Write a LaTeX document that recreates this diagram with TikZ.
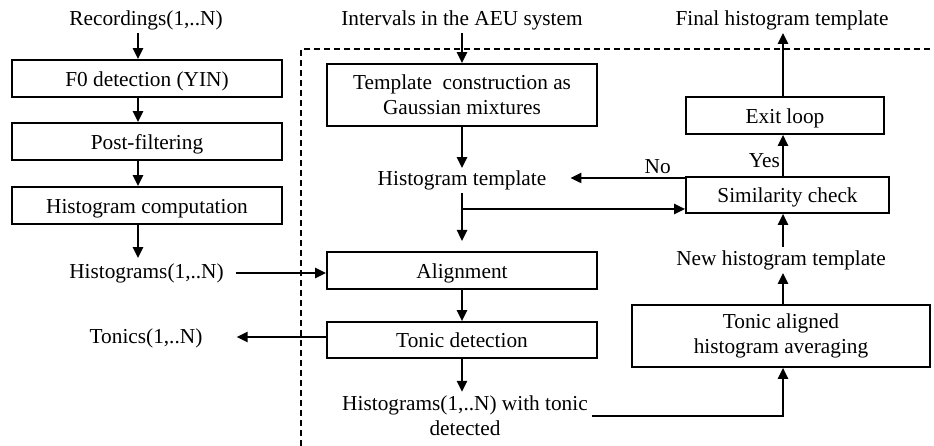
\documentclass[tikz,border=0pt]{standalone}
\usepackage{fontspec}
\setmainfont{Liberation Serif}
\usetikzlibrary{arrows.meta,calc}
\begin{document}
\begin{tikzpicture}[x=1pt,y=-1pt,
  every node/.style={font=\fontsize{21.3}{25}\selectfont},
  box/.style={draw,line width=1.6pt,inner sep=0pt,align=center},
  box1/.style={box,text height=18pt,text depth=2.6pt},
  lbl/.style={inner sep=3pt,align=center},
  arr/.style={line width=2.4pt,-{Triangle[length=11pt,width=10pt]}},
  dsh/.style={line width=1.3pt,dash pattern=on 6pt off 4pt}]
\useasboundingbox (0,0) rectangle (934,446);
% dashed frame
\draw[dsh] (301,446) -- (301,49) -- (931,49);
% left column
\coordinate (ax) at (138,0);
\node[lbl] (rec) at (146,20) {Recordings(1,..N)};
\node[box1,minimum width=270pt,minimum height=37pt] (f0) at (147,78.5) {F0 detection (YIN)};
\node[box1,minimum width=270pt,minimum height=37pt] (post) at (147,141.5) {Post-filtering};
\node[box1,minimum width=270pt,minimum height=37pt] (hcomp) at (147,205.5) {Histogram computation};
\node[lbl] (hists) at (146.5,273) {Histograms(1,..N)};
\node[lbl] (tonics) at (146,338) {Tonics(1,..N)};
\draw[arr] (rec.south -| ax) -- (f0.north -| ax);
\draw[arr] (f0.south -| ax) -- (post.north -| ax);
\draw[arr] (post.south -| ax) -- (hcomp.north -| ax);
\draw[arr] (hcomp.south -| ax) -- ([yshift=2pt]hists.north -| ax);
% middle column
\coordinate (mx) at (462,0);
\node[lbl] (intv) at (462,20) {Intervals in the AEU system};
\node[box,minimum width=270pt,minimum height=62pt] (tmpl) at (462,95) {Template~~construction as\\Gaussian mixtures};
\node[lbl] (histT) at (462,180) {Histogram template};
\node[box1,minimum width=270pt,minimum height=37pt] (align) at (462,270.5) {Alignment};
\node[box1,minimum width=270pt,minimum height=36pt] (tonic) at (462,340) {Tonic detection};
\node[lbl,inner sep=4pt] (histN) at (465,416) {Histograms(1,..N) with tonic\\detected};
\coordinate (gapT) at (462,241);
\coordinate (brT) at (462,209);
\draw[arr] (intv.south -| mx) -- (tmpl.north -| mx);
\draw[arr] (tmpl.south -| mx) -- ([yshift=-1pt]histT.north -| mx);
\draw[arr] (histT.south -| mx) -- (gapT);
\draw[arr] (tonic.south -| mx) -- (histN.north -| mx);
\draw[arr] (align.south -| mx) -- (tonic.north -| mx);
\draw[arr] ([xshift=9pt]hists.east) -- (hists.east -| align.west);
\draw[arr] (tonic.west |- 0,337) -- ([xshift=31pt]tonics.east |- 0,337);
% right column
\coordinate (rx) at (783,0);
\node[lbl] (final) at (782,20) {Final histogram template};
\node[box1,minimum width=198pt,minimum height=37pt] (exit) at (785,115.5) {Exit loop};
\node[box1,minimum width=203pt,minimum height=36pt] (sim) at (787.5,195) {Similarity check};
\node[lbl] (newT) at (781,260) {New histogram template};
\node[box,minimum width=298pt,minimum height=62pt] (avg) at (781,336) {Tonic aligned\\histogram averaging};
\draw[arr] (exit.north -| rx) -- (final.south -| rx);
\draw[arr] (sim.north -| rx) -- (exit.south -| rx) node[pos=0.37,left=2pt,lbl,inner sep=0pt] (yes) {Yes};
\draw[arr] (newT.north -| rx) -- (sim.south -| rx);
\draw[arr] (avg.north -| rx) -- (newT.south -| rx);
\draw[arr] (histN.east) -- (histN.east -| rx) -- (avg.south -| rx);
\draw[arr] (brT) -- (sim.west |- brT);
\draw[arr] (sim.west |- 0,178) -- ([xshift=21pt]histT.east |- 0,178) node[pos=0.24,above=3pt,lbl,inner sep=0pt] (no) {No};
\end{tikzpicture}
\end{document}
